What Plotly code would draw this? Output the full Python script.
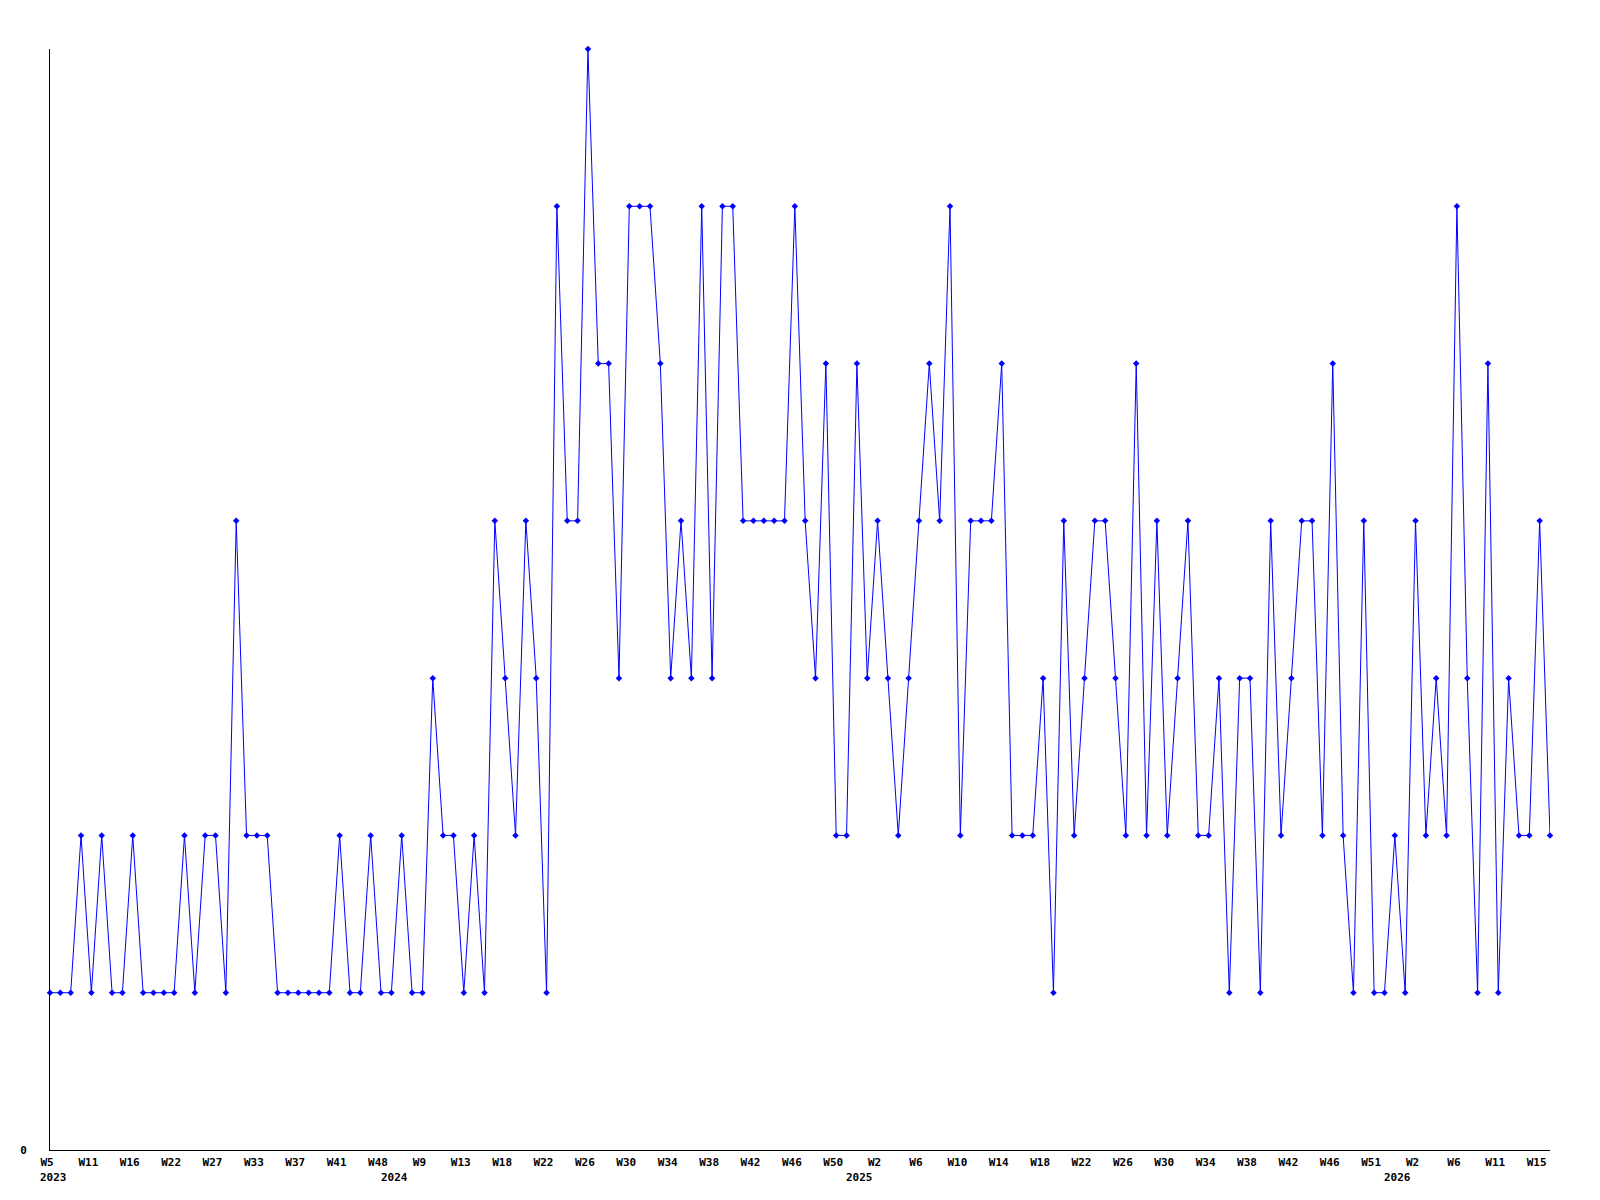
import plotly.graph_objects as go

# Weekly values (one point per reported week)
values = [
    1, 1, 1, 2, 1, 2, 1, 1, 2, 1,
    1, 1, 1, 2, 1, 2, 2, 1, 4, 2,
    2, 2, 1, 1, 1, 1, 1, 1, 2, 1,
    1, 2, 1, 1, 2, 1, 1, 3, 2, 2,
    1, 2, 1, 4, 3, 2, 4, 3, 1, 6,
    4, 4, 7, 5, 5, 3, 6, 6, 6, 5,
    3, 4, 3, 6, 3, 6, 6, 4, 4, 4,
    4, 4, 6, 4, 3, 5, 2, 2, 5, 3,
    4, 3, 2, 3, 4, 5, 4, 6, 2, 4,
    4, 4, 5, 2, 2, 2, 3, 1, 4, 2,
    3, 4, 4, 3, 2, 5, 2, 4, 2, 3,
    4, 2, 2, 3, 1, 3, 3, 1, 4, 2,
    3, 4, 4, 2, 5, 2, 1, 4, 1, 1,
    2, 1, 4, 2, 3, 2, 6, 3, 1, 5,
    1, 3, 2, 2, 4, 2,
]

# Week labels shown every 4th point
week_labels = [
    "W5", "W11", "W16", "W22", "W27", "W33", "W37", "W41", "W48", "W9",
    "W13", "W18", "W22", "W26", "W30", "W34", "W38", "W42", "W46", "W50",
    "W2", "W6", "W10", "W14", "W18", "W22", "W26", "W30", "W34", "W38",
    "W42", "W46", "W51", "W2", "W6", "W11", "W15",
]
label_step = 4

# Years and the point index where each year's labels start
years = ["2023", "2024", "2025", "2026"]
year_start_index = [0, 33, 78, 130]

x = list(range(len(values)))
tickvals = x[::label_step][:len(week_labels)]

fnt = dict(family="DejaVu Sans Mono", size=11, color="black", weight="bold")

fig = go.Figure()
fig.add_trace(go.Scatter(
    x=x, y=values, mode="lines+markers",
    line=dict(color="#0000ff", width=1),
    marker=dict(symbol="diamond", size=5, color="#0000ff"),
    showlegend=False, hoverinfo="x+y", cliponaxis=False,
))

for yr, idx in zip(years, year_start_index):
    fig.add_annotation(
        x=idx, y=0, xref="x", yref="paper", text=yr, showarrow=False,
        yanchor="top", yshift=-19, xshift=3, font=fnt,
    )

fig.update_layout(
    width=1600, height=1200,
    margin=dict(l=42, r=58, t=41, b=58, autoexpand=False),
    paper_bgcolor="white", plot_bgcolor="white",
    xaxis=dict(
        range=[0, len(values) - 1], showgrid=False, zeroline=False,
        showline=True, linecolor="black", linewidth=1, automargin=False,
        tickmode="array", tickvals=tickvals, ticktext=week_labels,
        ticks="", tickfont=fnt, ticklabelstandoff=2, ticklabelshift=-3,
    ),
    yaxis=dict(
        range=[0, 7], showgrid=False, zeroline=False,
        showline=True, linecolor="black", linewidth=1, automargin=False,
        tickmode="array", tickvals=[0], ticktext=["0"],
        ticks="", tickfont=fnt, ticklabelstandoff=20,
    ),
)

fig.write_html("out.html")
